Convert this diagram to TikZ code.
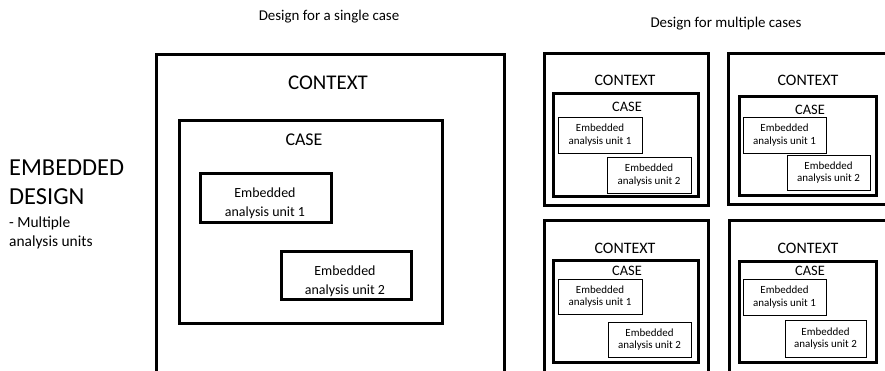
\documentclass[tikz,border=0pt]{standalone}
\usepackage{fontspec}
\setmainfont{Carlito}
\usetikzlibrary{fit}
\tikzset{
  thick box/.style={draw=black, line width=3bp, inner sep=0pt, fill=none},
  thin box/.style={draw=black, line width=1bp, inner sep=0pt},
  txt/.style={inner sep=0pt, align=center, text=black},
  bigctx/.style={txt, font=\fontsize{21}{24}\selectfont},
  bigcase/.style={txt, font=\fontsize{18}{21}\selectfont},
  bigunit/.style={txt, font=\fontsize{14}{19}\selectfont},
  smctx/.style={txt, font=\fontsize{16}{19}\selectfont},
  smcase/.style={txt, font=\fontsize{14.5}{17}\selectfont},
  smunit/.style={txt, font=\fontsize{11}{12.5}\selectfont},
}
\begin{document}
\begin{tikzpicture}[x=1bp,y=-1bp]
\clip (0,0) rectangle (885,370);
\fill[white] (0,0) rectangle (885,370);

% titles
\node[txt, font=\fontsize{15}{18}\selectfont] (t1) at (329,17) {Design for a single case};
\node[txt, font=\fontsize{15}{18}\selectfont] (t2) at (726,24) {Design for multiple cases};

% left labels
\node[txt, anchor=north west, align=left, font=\fontsize{24.5}{29}\selectfont] (emb) at (9,160) {EMBEDDED\\DESIGN};
\node[txt, anchor=north west, align=left, font=\fontsize{15.5}{19}\selectfont] (mult) at (9,217) {- Multiple\\analysis units};

% single case
\node[thick box, fit={(156,54)(504,390)}] (mctx) {};
\node[thick box, fit={(179,120)(442,323)}] (mcase) {};
\node[thick box, fit={(200,173)(331,222)}] (mu1) {};
\node[thick box, fit={(281,251)(411,299)}] (mu2) {};
\node[bigctx] (mctxl) at (328,83) {CONTEXT};
\node[bigcase] (mcasel) at (304,140) {CASE};
\node[bigunit] (mu1l) at (265,203.5) {Embedded\\analysis unit 1};
\node[bigunit] (mu2l) at (345,281) {Embedded\\analysis unit 2};

% multiple cases: top-left
\node[thick box, fit={(544,53)(708,205)}] (actx) {};
\node[thick box, fit={(553,93)(698,196)}] (acase) {};
\node[thin box, fit={(558,117)(642,153)}] (au1) {};
\node[thin box, fit={(607,157)(691,193)}] (au2) {};
\node[smctx] at (625,80) (actxl) {CONTEXT};
\node[smcase] at (627,107) (acasel) {CASE};
\node[smunit] at (600,135) (au1l) {Embedded\\analysis unit 1};
\node[smunit] at (649,175) (au2l) {Embedded\\analysis unit 2};

% top-right
\node[thick box, fit={(728,53)(895,204)}] (bctx) {};
\node[thick box, fit={(739,96)(876,195)}] (bcase) {};
\node[thin box, fit={(743,117)(826,153)}] (bu1) {};
\node[thin box, fit={(787,155)(870,190)}] (bu2) {};
\node[smctx] at (808,80) (bctxl) {CONTEXT};
\node[smcase] at (810,110) (bcasel) {CASE};
\node[smunit] at (784.5,135) (bu1l) {Embedded\\analysis unit 1};
\node[smunit] at (828.5,172.5) (bu2l) {Embedded\\analysis unit 2};

% bottom-left
\node[thick box, fit={(544,220)(708,390)}] (cctx) {};
\node[thick box, fit={(553,260)(698,362)}] (ccase) {};
\node[thin box, fit={(558,279)(642,314)}] (cu1) {};
\node[thin box, fit={(608,322)(691,357)}] (cu2) {};
\node[smctx] at (625,248) (cctxl) {CONTEXT};
\node[smcase] at (627,271) (ccasel) {CASE};
\node[smunit] at (600,296.5) (cu1l) {Embedded\\analysis unit 1};
\node[smunit] at (649.5,339.5) (cu2l) {Embedded\\analysis unit 2};

% bottom-right
\node[thick box, fit={(729,220)(895,390)}] (dctx) {};
\node[thick box, fit={(739,261)(876,362)}] (dcase) {};
\node[thin box, fit={(743,279)(826,315)}] (du1) {};
\node[thin box, fit={(785,320)(866,357)}] (du2) {};
\node[smctx] at (808,248) (dctxl) {CONTEXT};
\node[smcase] at (810,271) (dcasel) {CASE};
\node[smunit] at (784.5,297) (du1l) {Embedded\\analysis unit 1};
\node[smunit] at (825.5,338.5) (du2l) {Embedded\\analysis unit 2};
\end{tikzpicture}
\end{document}
